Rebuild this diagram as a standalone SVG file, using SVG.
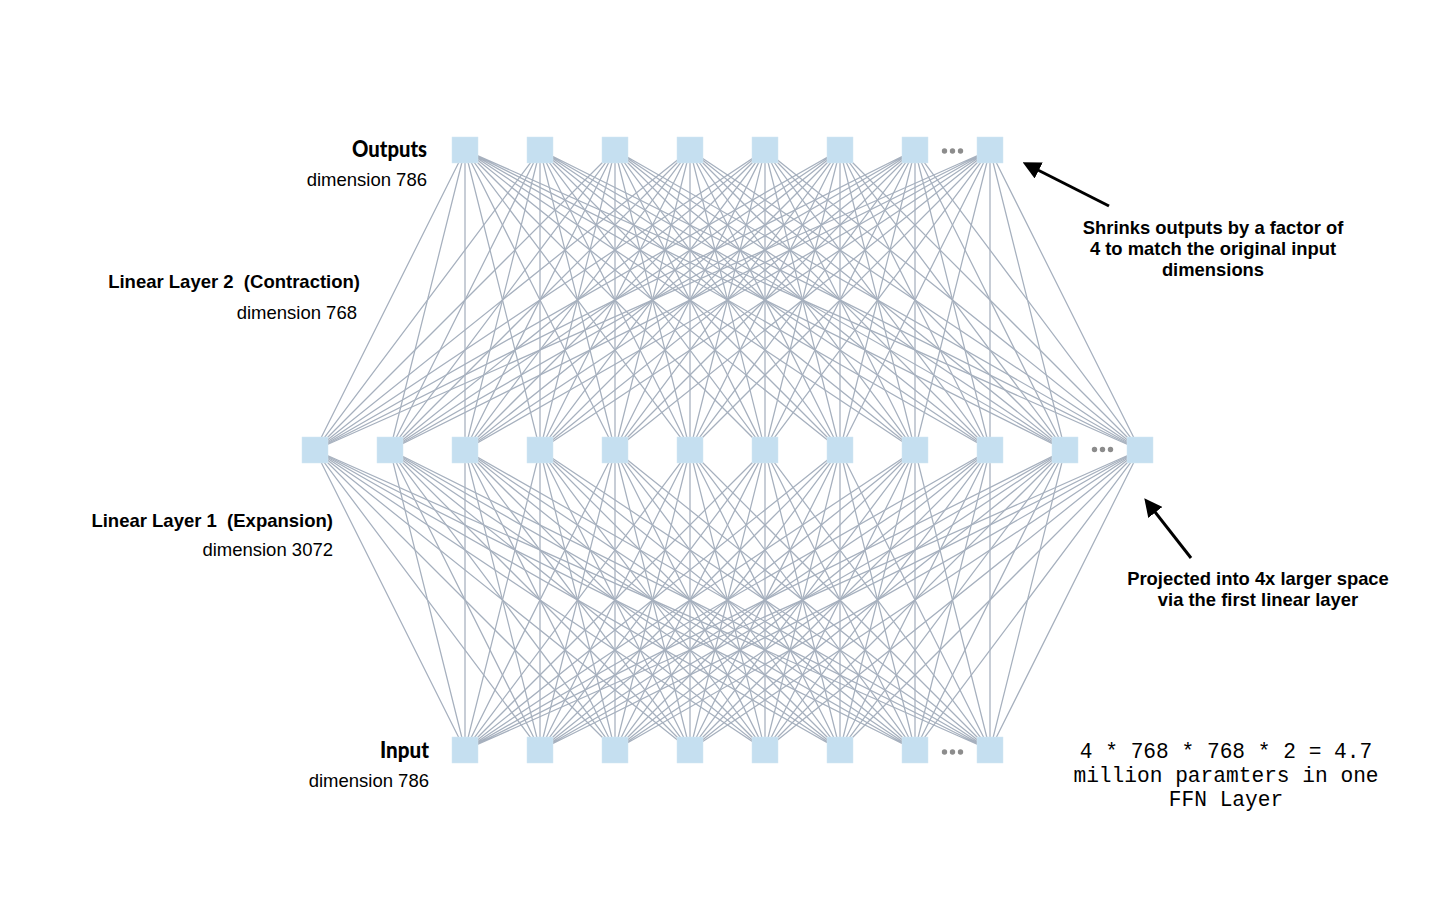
<svg xmlns="http://www.w3.org/2000/svg" width="1456" height="920" viewBox="0 0 1456 920">
<style>
.n{fill:#c5dff0;stroke:#d3e6f3;stroke-width:0.5}
.e{fill:none;stroke:#a6b0be;stroke-width:1.25}
.d{fill:#8c8c8c}
.gl{font-family:Lato,"Open Sans",sans-serif;font-weight:900;font-size:22px;fill:#000;text-anchor:end}
.lb{font-family:"Liberation Sans",Arial,sans-serif;font-weight:bold;font-size:18.5px;fill:#000;text-anchor:end;white-space:pre}
.lr{font-family:"Liberation Sans",Arial,sans-serif;font-size:18.5px;fill:#000;text-anchor:end}
.an{font-family:"Liberation Sans",Arial,sans-serif;font-weight:bold;font-size:18.4px;fill:#000;text-anchor:middle}
.mo{font-family:"Liberation Mono","Courier New",monospace;font-size:21.2px;fill:#000;text-anchor:middle}
.ar{fill:none;stroke:#000;stroke-width:3}
</style>
<defs>
<marker id="ah" markerWidth="6" markerHeight="6" refX="4" refY="3" orient="auto" markerUnits="strokeWidth">
<path d="M0,0 L6,3 L0,6 Z" fill="#000"/>
</marker>
</defs>
<rect width="1456" height="920" fill="#fff"/>
<g id="connectors">
<path class="e" d="M465 750L315 450M465 750L390 450M465 750L465 450M465 750L540 450M465 750L615 450M465 750L690 450M465 750L765 450M465 750L840 450M465 750L915 450M465 750L990 450M465 750L1065 450M465 750L1140 450"/>
<path class="e" d="M540 750L315 450M540 750L390 450M540 750L465 450M540 750L540 450M540 750L615 450M540 750L690 450M540 750L765 450M540 750L840 450M540 750L915 450M540 750L990 450M540 750L1065 450M540 750L1140 450"/>
<path class="e" d="M615 750L315 450M615 750L390 450M615 750L465 450M615 750L540 450M615 750L615 450M615 750L690 450M615 750L765 450M615 750L840 450M615 750L915 450M615 750L990 450M615 750L1065 450M615 750L1140 450"/>
<path class="e" d="M690 750L315 450M690 750L390 450M690 750L465 450M690 750L540 450M690 750L615 450M690 750L690 450M690 750L765 450M690 750L840 450M690 750L915 450M690 750L990 450M690 750L1065 450M690 750L1140 450"/>
<path class="e" d="M765 750L315 450M765 750L390 450M765 750L465 450M765 750L540 450M765 750L615 450M765 750L690 450M765 750L765 450M765 750L840 450M765 750L915 450M765 750L990 450M765 750L1065 450M765 750L1140 450"/>
<path class="e" d="M840 750L315 450M840 750L390 450M840 750L465 450M840 750L540 450M840 750L615 450M840 750L690 450M840 750L765 450M840 750L840 450M840 750L915 450M840 750L990 450M840 750L1065 450M840 750L1140 450"/>
<path class="e" d="M915 750L315 450M915 750L390 450M915 750L465 450M915 750L540 450M915 750L615 450M915 750L690 450M915 750L765 450M915 750L840 450M915 750L915 450M915 750L990 450M915 750L1065 450M915 750L1140 450"/>
<path class="e" d="M990 750L315 450M990 750L390 450M990 750L465 450M990 750L540 450M990 750L615 450M990 750L690 450M990 750L765 450M990 750L840 450M990 750L915 450M990 750L990 450M990 750L1065 450M990 750L1140 450"/>
<path class="e" d="M465 150L315 450M465 150L390 450M465 150L465 450M465 150L540 450M465 150L615 450M465 150L690 450M465 150L765 450M465 150L840 450M465 150L915 450M465 150L990 450M465 150L1065 450M465 150L1140 450"/>
<path class="e" d="M540 150L315 450M540 150L390 450M540 150L465 450M540 150L540 450M540 150L615 450M540 150L690 450M540 150L765 450M540 150L840 450M540 150L915 450M540 150L990 450M540 150L1065 450M540 150L1140 450"/>
<path class="e" d="M615 150L315 450M615 150L390 450M615 150L465 450M615 150L540 450M615 150L615 450M615 150L690 450M615 150L765 450M615 150L840 450M615 150L915 450M615 150L990 450M615 150L1065 450M615 150L1140 450"/>
<path class="e" d="M690 150L315 450M690 150L390 450M690 150L465 450M690 150L540 450M690 150L615 450M690 150L690 450M690 150L765 450M690 150L840 450M690 150L915 450M690 150L990 450M690 150L1065 450M690 150L1140 450"/>
<path class="e" d="M765 150L315 450M765 150L390 450M765 150L465 450M765 150L540 450M765 150L615 450M765 150L690 450M765 150L765 450M765 150L840 450M765 150L915 450M765 150L990 450M765 150L1065 450M765 150L1140 450"/>
<path class="e" d="M840 150L315 450M840 150L390 450M840 150L465 450M840 150L540 450M840 150L615 450M840 150L690 450M840 150L765 450M840 150L840 450M840 150L915 450M840 150L990 450M840 150L1065 450M840 150L1140 450"/>
<path class="e" d="M915 150L315 450M915 150L390 450M915 150L465 450M915 150L540 450M915 150L615 450M915 150L690 450M915 150L765 450M915 150L840 450M915 150L915 450M915 150L990 450M915 150L1065 450M915 150L1140 450"/>
<path class="e" d="M990 150L315 450M990 150L390 450M990 150L465 450M990 150L540 450M990 150L615 450M990 150L690 450M990 150L765 450M990 150L840 450M990 150L915 450M990 150L990 450M990 150L1065 450M990 150L1140 450"/>
</g>
<g id="outputs">
<rect id="o1" class="n" x="452" y="137" width="26" height="26"/>
<rect id="o2" class="n" x="527" y="137" width="26" height="26"/>
<rect id="o3" class="n" x="602" y="137" width="26" height="26"/>
<rect id="o4" class="n" x="677" y="137" width="26" height="26"/>
<rect id="o5" class="n" x="752" y="137" width="26" height="26"/>
<rect id="o6" class="n" x="827" y="137" width="26" height="26"/>
<rect id="o7" class="n" x="902" y="137" width="26" height="26"/>
<rect id="o8" class="n" x="977" y="137" width="26" height="26"/>
<g id="o-dots" class="d"><circle cx="944.5" cy="151" r="2.7"/><circle cx="952.5" cy="151" r="2.7"/><circle cx="960.5" cy="151" r="2.7"/></g>
</g>
<g id="hidden">
<rect id="h1" class="n" x="302" y="437" width="26" height="26"/>
<rect id="h2" class="n" x="377" y="437" width="26" height="26"/>
<rect id="h3" class="n" x="452" y="437" width="26" height="26"/>
<rect id="h4" class="n" x="527" y="437" width="26" height="26"/>
<rect id="h5" class="n" x="602" y="437" width="26" height="26"/>
<rect id="h6" class="n" x="677" y="437" width="26" height="26"/>
<rect id="h7" class="n" x="752" y="437" width="26" height="26"/>
<rect id="h8" class="n" x="827" y="437" width="26" height="26"/>
<rect id="h9" class="n" x="902" y="437" width="26" height="26"/>
<rect id="h10" class="n" x="977" y="437" width="26" height="26"/>
<rect id="h11" class="n" x="1052" y="437" width="26" height="26"/>
<rect id="h12" class="n" x="1127" y="437" width="26" height="26"/>
<g id="h-dots" class="d"><circle cx="1094.5" cy="449.5" r="2.7"/><circle cx="1102.5" cy="449.5" r="2.7"/><circle cx="1110.5" cy="449.5" r="2.7"/></g>
</g>
<g id="inputs">
<rect id="i1" class="n" x="452" y="737" width="26" height="26"/>
<rect id="i2" class="n" x="527" y="737" width="26" height="26"/>
<rect id="i3" class="n" x="602" y="737" width="26" height="26"/>
<rect id="i4" class="n" x="677" y="737" width="26" height="26"/>
<rect id="i5" class="n" x="752" y="737" width="26" height="26"/>
<rect id="i6" class="n" x="827" y="737" width="26" height="26"/>
<rect id="i7" class="n" x="902" y="737" width="26" height="26"/>
<rect id="i8" class="n" x="977" y="737" width="26" height="26"/>
<g id="i-dots" class="d"><circle cx="944.5" cy="752" r="2.7"/><circle cx="952.5" cy="752" r="2.7"/><circle cx="960.5" cy="752" r="2.7"/></g>
</g>
<g id="labels">
<text class="gl" x="427" y="157" textLength="75" lengthAdjust="spacingAndGlyphs">Outputs</text>
<text class="lr" x="427" y="186">dimension 786</text>
<text class="lb" x="360" y="288" xml:space="preserve">Linear Layer 2  (Contraction)</text>
<text class="lr" x="357" y="319">dimension 768</text>
<text class="lb" x="333" y="527" xml:space="preserve">Linear Layer 1  (Expansion)</text>
<text class="lr" x="333" y="556">dimension 3072</text>
<text class="gl" x="429" y="758" textLength="49" lengthAdjust="spacingAndGlyphs">Input</text>
<text class="lr" x="429" y="787">dimension 786</text>
</g>
<g id="note-shrink">
<line class="ar" x1="1109" y1="206" x2="1028" y2="165" marker-end="url(#ah)"/>
<text class="an" x="1213" y="234">Shrinks outputs by a factor of</text>
<text class="an" x="1213" y="255">4 to match the original input</text>
<text class="an" x="1213" y="276">dimensions</text>
</g>
<g id="note-project">
<line class="ar" x1="1191" y1="558" x2="1148" y2="503" marker-end="url(#ah)"/>
<text class="an" x="1258" y="585">Projected into 4x larger space</text>
<text class="an" x="1258" y="606">via the first linear layer</text>
</g>
<g id="note-params">
<text class="mo" x="1226" y="758">4 * 768 * 768 * 2 = 4.7</text>
<text class="mo" x="1226" y="782">million paramters in one</text>
<text class="mo" x="1226" y="806">FFN Layer</text>
</g>
</svg>
